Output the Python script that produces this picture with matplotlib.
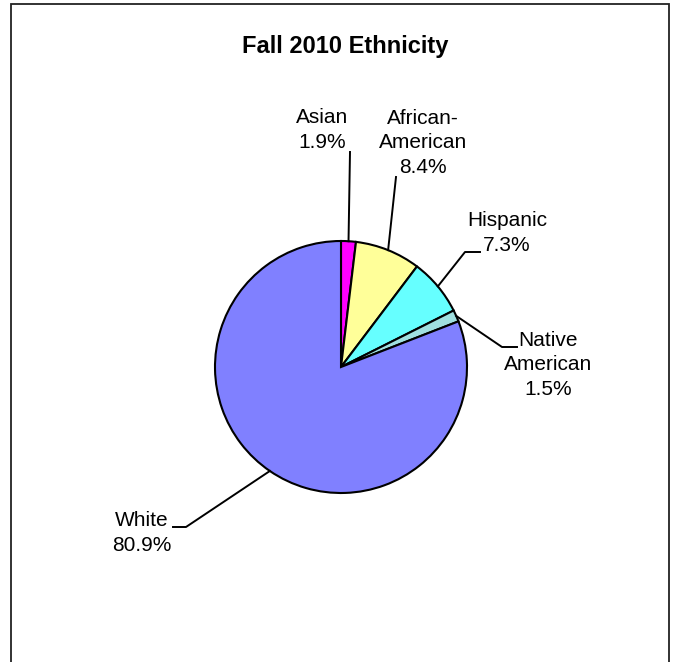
import matplotlib
matplotlib.use("Agg")
import matplotlib.pyplot as plt
import numpy as np

labels = ["Asian", "African-\nAmerican", "Hispanic", "Native\nAmerican", "White"]
values = [1.9, 8.4, 7.3, 1.5, 80.9]
colors = ["#FF00FF", "#FFFF99", "#66FFFF", "#A0E0E0", "#8080FF"]
title = "Fall 2010 Ethnicity"

W, H = 673, 662
plt.rcParams['font.family'] = ['Liberation Sans', 'DejaVu Sans']
fig = plt.figure(figsize=(W / 100, H / 100), dpi=100)
ax = fig.add_axes([0, 0, 1, 1])

def py(y):
    return H - y

cx, cy, r = 341, py(367), 126
wedges, _ = ax.pie(values, colors=colors, startangle=90, counterclock=False,
                   center=(cx, cy), radius=r, frame=True,
                   wedgeprops=dict(edgecolor='black', linewidth=1.5))
ax.set_xlim(0, W)
ax.set_ylim(0, H)
ax.set_aspect('equal')
ax.axis('off')

# frame
ax.plot([11, 11, 669, 669], [0, py(3.5), py(3.5), 0], color='#222222', lw=1.3,
        solid_joinstyle='miter', zorder=1)

# leader elbows (pixel coords) and text centers
leaders = [
    [(350, 152)],
    [(396, 177)],
    [(465, 252), (480, 252)],
    [(502, 347), (517, 347)],
    [(186, 527), (173, 527)],
]
text_pos = [(322, 130), (423, 143), (507, 233), (548, 365), (142, 533)]

for w, lab, v, pts, tp in zip(wedges, labels, values, leaders, text_pos):
    ang = np.deg2rad((w.theta1 + w.theta2) / 2)
    sx, sy = cx + r * np.cos(ang), cy + r * np.sin(ang)
    xs = [sx] + [p[0] for p in pts]
    ys = [sy] + [py(p[1]) for p in pts]
    ax.plot(xs, ys, color='black', lw=1.4, zorder=3)
    ax.text(tp[0], py(tp[1]), f"{lab}\n{v:.1f}%", ha='center', va='center',
            fontsize=15, linespacing=1.38, color='black')

ax.text(345, py(46), title, ha='center', va='center', fontsize=17,
        fontweight='bold')

fig.savefig("out.png", dpi=100)
